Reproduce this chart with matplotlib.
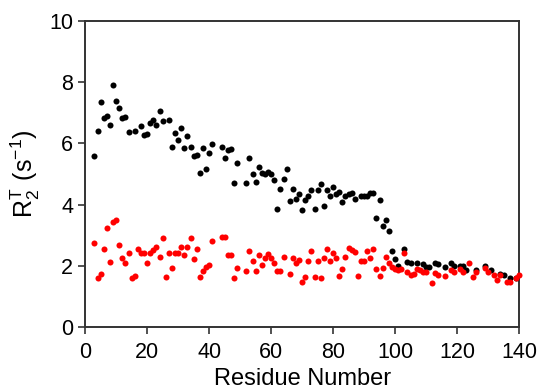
import matplotlib
matplotlib.use("Agg")
import matplotlib.pyplot as plt

plt.rcParams['font.family'] = ['Liberation Sans', 'DejaVu Sans']
plt.rcParams['mathtext.fontset'] = 'custom'
plt.rcParams['mathtext.rm'] = 'Liberation Sans'

# black series (full length)
res_black = [3, 4, 5, 6, 7, 8, 9, 10, 11, 12, 13, 14, 16, 18, 19, 20, 21, 22, 23, 24,
             25, 27, 28, 29, 30, 31, 32, 33, 34, 35, 36, 37, 38, 39, 40, 41, 44, 45, 46, 47,
             48, 49, 52, 53, 54, 55, 56, 57, 58, 59, 60, 61, 62, 63, 64, 65, 66, 67, 68, 69,
             70, 71, 72, 73, 74, 75, 76, 77, 78, 79, 80, 81, 82, 83, 84, 85, 86, 87, 89, 90,
             91, 92, 93, 94, 95, 96, 97, 98, 99, 100, 101, 103, 104, 105, 107, 109, 110, 111, 113, 114,
             116, 118, 119, 121, 122, 123, 126, 129, 131, 134, 135, 137, 139]
r2_black = [5.57, 6.40, 7.33, 6.82, 6.90, 6.60, 7.89, 7.39, 7.15, 6.82, 6.86, 6.36, 6.40, 6.55, 6.26, 6.30, 6.65, 6.76, 6.60, 7.05,
            6.72, 6.76, 5.89, 6.33, 6.12, 6.50, 5.85, 6.22, 5.89, 5.59, 5.62, 5.02, 5.86, 5.16, 5.67, 5.96, 5.89, 5.53, 5.77, 5.82,
            4.71, 5.35, 4.71, 5.53, 4.98, 4.75, 5.21, 5.02, 4.98, 5.05, 4.98, 4.79, 3.87, 4.52, 4.84, 5.16, 4.11, 4.52, 4.19, 4.33,
            3.83, 4.15, 4.29, 4.46, 3.87, 4.46, 4.66, 3.96, 4.48, 4.29, 4.58, 4.33, 4.42, 4.08, 4.29, 4.33, 4.38, 4.18, 4.29, 4.29,
            4.29, 4.38, 4.38, 3.55, 4.15, 3.31, 3.50, 3.14, 2.48, 2.21, 2.00, 2.55, 2.13, 2.08, 2.08, 2.05, 1.97, 1.97, 2.08, 2.05,
            1.97, 2.08, 2.01, 2.01, 2.01, 1.86, 1.86, 2.01, 1.86, 1.75, 1.70, 1.59, 1.59]

# red series
res_red = [3, 4, 5, 6, 7, 8, 9, 10, 11, 12, 13, 14, 15, 16, 17, 18, 19, 20, 21, 22,
           23, 24, 25, 26, 27, 28, 29, 30, 31, 32, 33, 34, 35, 36, 37, 38, 39, 40, 41, 44,
           45, 46, 47, 48, 49, 52, 53, 54, 55, 56, 57, 58, 59, 60, 61, 62, 63, 64, 66, 67,
           68, 69, 70, 71, 72, 73, 74, 75, 76, 77, 78, 79, 80, 81, 82, 83, 84, 85, 86, 87,
           88, 89, 90, 91, 92, 93, 94, 95, 96, 97, 98, 99, 100, 101, 102, 103, 104, 105, 106, 107,
           108, 109, 110, 112, 113, 114, 116, 118, 119, 121, 122, 124, 125, 126, 129, 130, 132, 133, 134, 136,
           137, 139, 140]
r2_red = [2.76, 1.61, 1.75, 2.54, 3.22, 2.12, 3.44, 3.50, 2.68, 2.27, 2.08, 2.41, 1.61, 1.67, 2.54, 2.43, 2.43, 2.08, 2.43, 2.52,
          2.62, 2.30, 2.90, 1.64, 2.41, 1.92, 2.43, 2.43, 2.62, 2.35, 2.62, 2.90, 2.21, 2.54, 1.64, 1.84, 1.95, 2.03, 2.81, 2.95,
          2.95, 2.35, 2.35, 1.61, 1.94, 1.84, 2.48, 2.16, 1.84, 2.35, 2.03, 2.27, 2.38, 2.27, 2.08, 1.84, 1.84, 2.30, 1.75, 2.27,
          2.08, 2.19, 1.48, 1.62, 2.16, 2.49, 1.64, 2.17, 1.61, 2.27, 2.54, 2.17, 2.41, 2.27, 1.67, 1.90, 2.30, 2.59, 2.52, 2.44,
          1.67, 2.17, 2.17, 2.47, 2.27, 2.54, 1.90, 1.67, 1.94, 2.30, 2.08, 1.97, 1.90, 1.86, 1.90, 2.41, 1.81, 1.70, 1.73, 1.90,
          1.86, 1.80, 1.80, 1.43, 1.76, 1.70, 1.67, 1.86, 1.80, 1.90, 1.80, 2.08, 1.63, 1.80, 1.92, 1.79, 1.70, 1.54, 1.70, 1.48,
          1.48, 1.59, 1.70]

fig = plt.figure(figsize=(5.39, 3.89), dpi=100)
ax = fig.add_axes([0.158, 0.159, 0.805, 0.788])

ax.scatter(res_black, r2_black, s=19, c='black', linewidths=0, clip_on=False, zorder=3)
ax.scatter(res_red, r2_red, s=19, c='#ff0000', linewidths=0, clip_on=False, zorder=4)

ax.set_xlim(0, 140)
ax.set_ylim(0, 10)
ax.set_xticks(range(0, 141, 20))
ax.set_yticks(range(0, 11, 2))
ax.tick_params(direction='out', length=5, width=1.2, labelsize=15.5, color='#333333')
ax.tick_params(axis='x', pad=6)
for sp in ax.spines.values():
    sp.set_linewidth(1.4)
    sp.set_color('#333333')

ax.set_xlabel('Residue Number', fontsize=17, labelpad=3)
ax.set_ylabel(r'$\mathregular{R_2^T\ (s^{-1})}$', fontsize=18, labelpad=5)

fig.savefig('out.png', dpi=100)
